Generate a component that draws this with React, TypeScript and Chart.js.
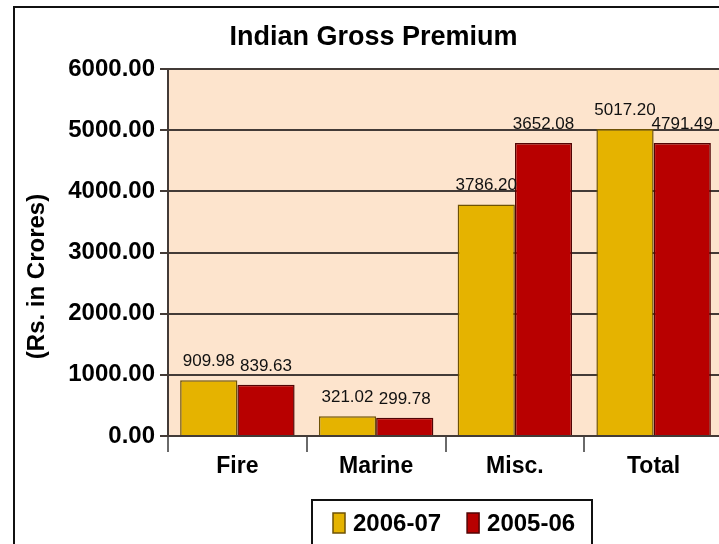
import React, { useEffect, useRef } from "react";
import { Chart, registerables } from "chart.js";

Chart.register(...registerables);

const categories = ["Fire", "Marine", "Misc.", "Total"];
const seriesNames = ["2006-07", "2005-06"];
const values2006 = [909.98, 321.02, 3786.2, 5017.2];
const values2005 = [839.63, 299.78, 4791.49, 4791.49];
const labels2006 = ["909.98", "321.02", "3786.20", "5017.20"];
const labels2005 = ["839.63", "299.78", "3652.08", "4791.49"];
const yTicks = [0, 1000, 2000, 3000, 4000, 5000, 6000];
const chartTitle = "Indian Gross Premium";
const yTitle = "(Rs. in Crores)";

const FONT = "'Liberation Sans', Arial, Helvetica, sans-serif";
const COLORS = ["#E5B300", "#B80000"];
const BORDERS = ["#6e5205", "#520404"];
const GRID = "#433b37";

const decorPlugin = {
  id: "decor",
  beforeDraw(chart: any) {
    const { ctx, chartArea } = chart;
    ctx.save();
    ctx.fillStyle = "#ffffff";
    ctx.fillRect(0, 0, chart.width, chart.height);
    ctx.fillStyle = "#FDE4CD";
    ctx.fillRect(chartArea.left, chartArea.top, chartArea.right - chartArea.left, chartArea.bottom - chartArea.top);
    ctx.restore();
  },
  afterDraw(chart: any) {
    const { ctx } = chart;
    ctx.save();
    // outer frame
    ctx.strokeStyle = "#111";
    ctx.lineWidth = 2;
    ctx.strokeRect(14, 7, chart.width, chart.height);

    // title
    ctx.fillStyle = "#000";
    ctx.font = `bold 27px ${FONT}`;
    ctx.textAlign = "center";
    ctx.textBaseline = "alphabetic";
    ctx.fillText(chartTitle, 373.5, 45);

    // y title
    ctx.save();
    ctx.translate(43.5, 276.5);
    ctx.rotate(-Math.PI / 2);
    ctx.font = `bold 24px ${FONT}`;
    ctx.textAlign = "center";
    ctx.fillText(yTitle, 0, 0);
    ctx.restore();

    // data labels
    const labelSets = [labels2006, labels2005];
    ctx.font = `17px ${FONT}`;
    ctx.textAlign = "center";
    ctx.fillStyle = "#111";
    chart.data.datasets.forEach((ds: any, di: number) => {
      const meta = chart.getDatasetMeta(di);
      meta.data.forEach((el: any, i: number) => {
        ctx.fillText(labelSets[di][i], el.x, el.y - 14);
      });
    });

    // legend
    const boxL = 312, boxT = 500, boxW = 280;
    ctx.lineWidth = 2;
    ctx.strokeStyle = "#111";
    ctx.strokeRect(boxL, boxT, boxW, 200);
    ctx.font = `bold 24px ${FONT}`;
    ctx.textAlign = "left";
    let x = 333;
    chart.data.datasets.forEach((ds: any, di: number) => {
      ctx.fillStyle = ds.backgroundColor;
      ctx.fillRect(x, 513, 12, 20);
      ctx.lineWidth = 1.5;
      ctx.strokeStyle = ds.borderColor;
      ctx.strokeRect(x, 513, 12, 20);
      ctx.fillStyle = "#000";
      ctx.fillText(ds.label, x + 20, 531);
      const w = ctx.measureText(ds.label).width;
      x = x + 20 + w + 26;
    });
    ctx.restore();
  },
};

export default function App() {
  const ref = useRef<HTMLCanvasElement | null>(null);
  useEffect(() => {
    if (!ref.current) return;
    const chart = new Chart(ref.current, {
      type: "bar",
      data: {
        labels: categories,
        datasets: [
          {
            label: seriesNames[0],
            data: values2006,
            backgroundColor: COLORS[0],
            borderColor: BORDERS[0],
            borderWidth: 1.5,
            categoryPercentage: 0.825,
            barPercentage: 1,
          },
          {
            label: seriesNames[1],
            data: values2005,
            backgroundColor: COLORS[1],
            borderColor: BORDERS[1],
            borderWidth: 1.5,
            categoryPercentage: 0.825,
            barPercentage: 1,
          },
        ],
      },
      options: {
        responsive: false,
        animation: false,
        devicePixelRatio: 1,
        layout: { padding: { left: 0, top: 69, right: 37, bottom: 0 } },
        plugins: {
          legend: { display: false },
          title: { display: false },
          tooltip: { enabled: false },
        },
        scales: {
          x: {
            offset: true,
            grid: {
              display: true,
              drawOnChartArea: false,
              drawTicks: true,
              tickLength: 16,
              color: "#6a6a6a",
              lineWidth: 2,
              offset: true,
            },
            border: { display: true, color: GRID, width: 2 },
            ticks: {
              font: { family: FONT, size: 23, weight: "bold" },
              color: "#000",
              padding: 1,
            },
            afterFit(s: any) {
              s.height = 600 - 436;
            },
          },
          y: {
            min: 0,
            max: 6000,
            afterBuildTicks(s: any) {
              s.ticks = yTicks.map((v) => ({ value: v }));
            },
            ticks: {
              font: { family: FONT, size: 24, weight: "bold" },
              color: "#000",
              padding: 5,
              callback: (v: any) => Number(v).toFixed(2),
            },
            grid: { color: GRID, lineWidth: 2, tickLength: 8, drawTicks: true },
            border: { display: true, color: GRID, width: 2 },
            afterFit(s: any) {
              s.width = 168;
            },
          },
        },
      },
      plugins: [decorPlugin],
    });
    return () => chart.destroy();
  }, []);
  return (
    <div
      style={{
        position: "fixed",
        left: 0,
        top: 0,
        width: 719,
        height: 544,
        overflow: "hidden",
        background: "#fff",
      }}
    >
      <canvas ref={ref} width={760} height={600} style={{ display: "block" }} />
    </div>
  );
}
